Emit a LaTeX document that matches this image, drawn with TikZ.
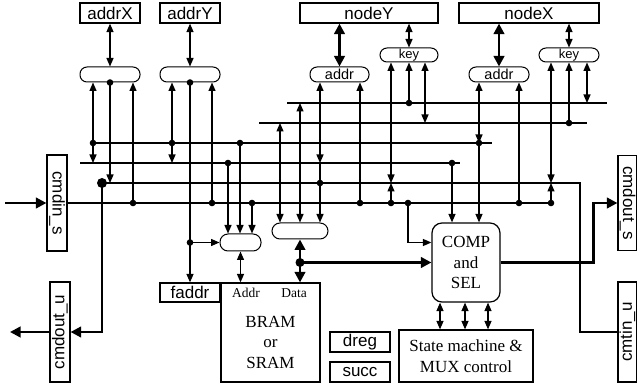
\documentclass[tikz,border=0pt]{standalone}
\usepackage{fontspec}
\setmainfont{Liberation Serif}
\setsansfont{Liberation Sans}
\usetikzlibrary{arrows.meta}

\tikzset{
  reg/.style={draw, line width=1.2pt, inner sep=0pt, font=\sffamily\fontsize{17}{18}\selectfont},
  pill/.style={draw, line width=1pt, rounded corners=7pt, inner sep=0pt, minimum height=15pt},
  blk/.style={draw, line width=1.2pt, inner sep=0pt, align=center, font=\fontsize{17}{20.5}\selectfont},
  wire/.style={line width=1.3pt, >={Triangle[length=8.5pt,width=7pt]}},
  bus/.style={line width=2.5pt, >={Triangle[length=10.5pt,width=10.5pt]}}
}

\begin{document}
\begin{tikzpicture}[x=1pt, y=-1pt]
\useasboundingbox (0,0) rectangle (637,387);

% registers on top
\node[reg, minimum width=60pt, minimum height=20pt] (addrX) at (110,13) {addrX};
\node[reg, minimum width=60pt, minimum height=20pt] (addrY) at (190,13) {addrY};
\node[reg, minimum width=138pt, minimum height=20pt] (nodeY) at (369,13) {nodeY};
\node[reg, minimum width=140pt, minimum height=20pt] (nodeX) at (529,13) {nodeX};

% muxes under the registers
\node[pill, minimum width=60pt] (pX) at (110,74.5) {};
\node[pill, minimum width=60pt] (pY) at (190,74.5) {};
\node[pill, minimum width=59pt, font=\sffamily\fontsize{14.5}{15}\selectfont] (aY) at (339.5,74.5) {addr};
\node[pill, minimum width=58pt, minimum height=14pt, font=\sffamily\fontsize{13}{14}\selectfont] (kY) at (409,55) {key};
\node[pill, minimum width=60pt, font=\sffamily\fontsize{14.5}{15}\selectfont] (aX) at (499,74.5) {addr};
\node[pill, minimum width=60pt, minimum height=14pt, font=\sffamily\fontsize{13}{14}\selectfont] (kX) at (569,55) {key};

% command ports
\node[reg, minimum width=20pt, minimum height=96pt] (cmdins) at (57,203) {\rotatebox{-90}{cmdin\_s}};
\node[reg, minimum width=20pt, minimum height=100pt] (cmdoutu) at (60,332) {\rotatebox{90}{cmdout\_u}};
\node[reg, minimum width=19pt, minimum height=95pt] (cmdouts) at (627.5,203) {\rotatebox{-90}{cmdout\_s}};
\node[reg, minimum width=19pt, minimum height=100pt] (cmtinu) at (627.5,332) {\rotatebox{90}{cmtin\_u}};

% memory side
\node[reg, minimum width=60pt, minimum height=19pt] (faddr) at (190,292.5) {faddr};
\node[pill, minimum width=41pt, minimum height=17pt, rounded corners=8pt] (mux) at (240.5,242.5) {};
\node[pill, minimum width=56pt, minimum height=16pt, rounded corners=8pt] (dat) at (300,231) {};
\node[blk, minimum width=99pt, minimum height=99pt] (bram) at (270.5,332.5) {};
\node[font=\fontsize{13.5}{15}\selectfont] (addrlbl) at (246,293) {Addr};
\node[font=\fontsize{13.5}{15}\selectfont] (datalbl) at (294,293) {Data};
\node[align=center, font=\fontsize{17}{20.5}\selectfont] (bramtxt) at (270.5,342) {BRAM\\or\\SRAM};
\node[reg, minimum width=60pt, minimum height=20pt] (dreg) at (360,342) {dreg};
\node[reg, minimum width=60pt, minimum height=20pt] (succ) at (360,372) {succ};

% control
\node[blk, rounded corners=10pt, minimum width=68pt, minimum height=79pt] (COMP) at (466,262.5) {COMP\\and\\SEL};
\node[blk, minimum width=134pt, minimum height=52pt] (sm) at (466,356) {State machine \&\\MUX control};

% bus ends and taps
\foreach \n/\x/\y in {
  b1w/287/103, b1e/607/103, b2w/259/123, b2e/587/123,
  b3w/93/143, b3e/492/143, b4w/80/163, b4e/460/163,
  b5w/102/183, b5e/580/183, b6e/552/203,
  t1/93/163, t3/133/203, t4/172/143, t4b/172/163, t6/212/203,
  t7/228/163, t8/240/143, t9/252/203, t10/280/123, t11/300/103,
  t12/320/163, t12b/320/183, t13/360/203, t14/391/183, t14b/391/203,
  t15/409/103, t16/425/123, t17/452/163, t18/479/143, t19/519/203,
  t20/551/183, t20b/551/203, t21/569/123, t22/587/103, t23/408/203,
  cin/5/203, cout/10/332}
  \coordinate (\n) at (\x,\y);

% register <-> mux
\draw[wire,<->] (addrX) -- (pX);
\draw[wire,<->] (addrY) -- (pY);
\draw[bus,<->] (nodeY.south -| aY) -- (aY);
\draw[wire,<->] (nodeY.south -| kY) -- (kY);
\draw[bus,<->] (nodeX.south -| aX) -- (aX);
\draw[wire,<->] (nodeX.south -| kX) -- (kX);

% buses
\draw[wire] (b1w) -- (b1e);
\draw[wire] (b2w) -- (b2e);
\draw[wire] (b3w) -- (b3e);
\draw[wire] (b4w) -- (b4e);
\draw[bus] (cmdins.east) -- (b6e);
\draw[bus] (b5w) -- (b5e) |- (cmtinu.west);
\draw[bus,->] (b5w) |- (cmdoutu.east);
\draw[bus,->] (cmdoutu.west) -- (cout);
\draw[bus,->] (cin) -- (cmdins.west);
\draw[bus,->] (COMP.east) -- ++(93,0) |- (cmdouts.west);

% addrX / addrY taps
\draw[wire,<->] (pX.south -| t1) -- (t1);
\draw[wire,->] (pX.south) -- (pX.south |- b5w);
\draw[wire,->] (t3) -- (pX.south -| t3);
\draw[wire,<->] (pY.south -| t4) -- (t4b);
\draw[wire,->] (pY.south) -- (faddr);
\draw[wire,->] (pY.south |- mux.west) -- (mux.west);
\draw[wire,->] (t6) -- (pY.south -| t6);

% memory muxes
\draw[wire,->] (t7) -- (mux.north -| t7);
\draw[wire,->] (t8) -- (mux.north -| t8);
\draw[wire,->] (t9) -- (mux.north -| t9);
\draw[wire,<->] (t10) -- (dat.north -| t10);
\draw[wire,<->] (t11) -- (dat.north -| t11);
\draw[wire,<->] (aY.south -| t12) -- (t12);
\draw[wire] (t12) -- (t12b);
\draw[wire,->] (t12b) -- (dat.north -| t12b);
\draw[wire,<->] (mux.south) -- (mux.south |- bram.north);
\draw[bus,<->] (dat.south) -- (dat.south |- bram.north);
\draw[bus,->] (dat.south |- COMP.west) -- (COMP.west);

% nodeY taps
\draw[wire,->] (t13) -- (aY.south -| t13);
\draw[wire,<->] (kY.south -| t14) -- (t14);
\draw[wire,->] (t14b) -- (t14);
\draw[wire,->] (t15) -- (kY.south);
\draw[wire,<->] (kY.south -| t16) -- (t16);

% nodeX taps
\draw[wire,->] (t19) -- (aX.south -| t19);
\draw[wire,<->] (kX.south -| t20) -- (t20);
\draw[wire,->] (t20b) -- (t20);
\draw[wire,->] (t21) -- (kX.south);
\draw[wire,<->] (kX.south -| t22) -- (t22);

% comparator inputs
\draw[wire,->] (t17) -- (COMP.north -| t17);
\draw[wire,<->] (aX.south -| t18) -- (t18);
\draw[wire,->] (t18) -- (COMP.north -| t18);
\draw[wire,->] (t23) |- ([yshift=20pt]COMP.west);
\foreach \dx in {-26,-1,22}
  \draw[wire,<->] ([xshift=\dx pt]COMP.south) -- ([xshift=\dx pt]sm.north);

% junctions
\foreach \p in {b3w, pX.south, t3, t4, pY.south, t6, t7, t8, t9, t12b, t13,
                t14b, t15, t17, t18, t19, t20b, t21, t23}
  \fill (\p) circle (3.3pt);
\fill (pY.south |- mux.west) circle (3.3pt);
\fill (b5w) circle (5pt);
\fill (dat.south |- COMP.west) circle (4.5pt);

\end{tikzpicture}
\end{document}
